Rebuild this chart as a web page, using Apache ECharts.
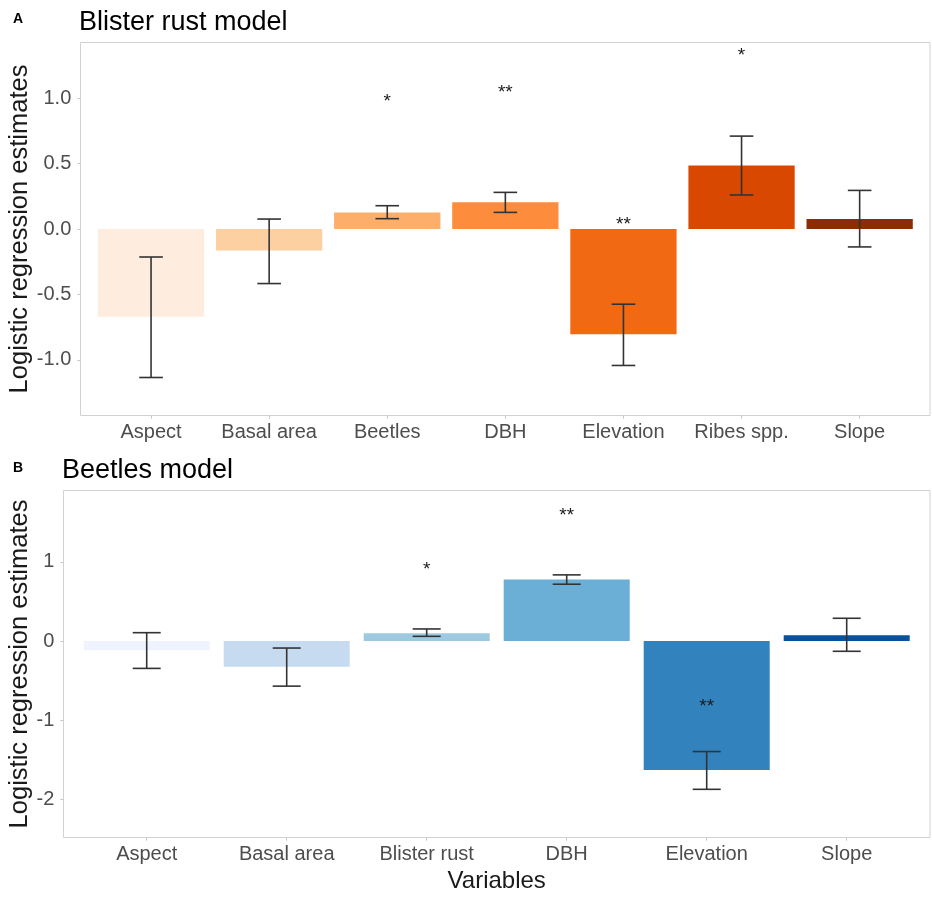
<!DOCTYPE html>
<html><head><meta charset="utf-8">
<script src="https://cdn.jsdelivr.net/npm/echarts@6/dist/echarts.min.js"></script>
<style>html,body{margin:0;padding:0;background:#fff}#c{width:932px;height:898px}</style>
</head><body><div id="c"></div>
<script>
// ---------- Panel A: Blister rust model ----------
const catsA = ['Aspect', 'Basal area', 'Beetles', 'DBH', 'Elevation', 'Ribes spp.', 'Slope'];
const estA  = [-0.67, -0.165, 0.127, 0.204, -0.804, 0.486, 0.076];
const lowA  = [-1.135, -0.417, 0.079, 0.127, -1.043, 0.26, -0.137];
const highA = [-0.214, 0.076, 0.178, 0.28, -0.575, 0.71, 0.295];
const sigA  = ['', '', '*', '**', '**', '*', ''];
const sigPosA = [null, null, 0.99, 1.06, 0.05, 1.34, null];
const colorsA = ['#feedde', '#fdd0a2', '#fdae6b', '#fd8d3c', '#f16913', '#d94801', '#8c2d04'];
const ticksA = [-1.0, -0.5, 0.0, 0.5, 1.0];

// ---------- Panel B: Beetles model ----------
const catsB = ['Aspect', 'Basal area', 'Blister rust', 'DBH', 'Elevation', 'Slope'];
const estB  = [-0.118, -0.325, 0.097, 0.776, -1.63, 0.072];
const lowB  = [-0.346, -0.57, 0.059, 0.717, -1.873, -0.13];
const highB = [0.105, -0.089, 0.152, 0.835, -1.396, 0.287];
const sigB  = ['', '', '*', '**', '**', ''];
const sigPosB = [null, null, 0.93, 1.61, -0.81, null];
const colorsB = ['#eff3ff', '#c6dbef', '#9ecae1', '#6baed6', '#3182bd', '#08519c'];
const ticksB = [-2, -1, 0, 1];

const FONT = "'Liberation Sans', Arial, Helvetica, sans-serif";
const chart = echarts.init(document.getElementById('c'), null, {renderer: 'canvas'});

function errRender(params, api) {
  const x = api.value(0);
  const pLo = api.coord([x, api.value(1)]);
  const pHi = api.coord([x, api.value(2)]);
  const hw = api.size([1, 0])[0] * 0.2 / 2;
  const st = {stroke: '#333333', lineWidth: 1.6};
  return {type: 'group', children: [
    {type: 'line', shape: {x1: pLo[0], y1: pLo[1], x2: pHi[0], y2: pHi[1]}, style: st},
    {type: 'line', shape: {x1: pLo[0] - hw, y1: pLo[1], x2: pLo[0] + hw, y2: pLo[1]}, style: st},
    {type: 'line', shape: {x1: pHi[0] - hw, y1: pHi[1], x2: pHi[0] + hw, y2: pHi[1]}, style: st}
  ]};
}
function sigRender(labels) {
  return function (params, api) {
    const i = api.value(0);
    const p = api.coord([i, api.value(1)]);
    return {type: 'text', x: p[0], y: p[1] + 2, style: {
      text: labels[i], fill: '#1a1a1a', font: '19px ' + FONT,
      align: 'center', verticalAlign: 'middle', textAlign: 'center', textVerticalAlign: 'middle'
    }};
  };
}
function sigData(pos) {
  const d = [];
  pos.forEach((v, i) => { if (v !== null) d.push([i, v]); });
  return d;
}

const tickStyle = {color: '#c8c8c8', width: 1};
const labelStyle = {color: '#4d4d4d', fontSize: 20, fontFamily: FONT};

const option = {
  animation: false,
  backgroundColor: '#ffffff',
  textStyle: {fontFamily: FONT},
  title: [
    {text: 'A', left: 13, top: 12, padding: 0, textStyle: {fontSize: 14, fontWeight: 'bold', color: '#000', fontFamily: FONT}},
    {text: 'Blister rust model', left: 79, top: 9, padding: 0, textStyle: {fontSize: 27, fontWeight: 'normal', color: '#000', fontFamily: FONT}},
    {text: 'B', left: 13, top: 461, padding: 0, textStyle: {fontSize: 14, fontWeight: 'bold', color: '#000', fontFamily: FONT}},
    {text: 'Beetles model', left: 62, top: 457, padding: 0, textStyle: {fontSize: 27, fontWeight: 'normal', color: '#000', fontFamily: FONT}}
  ],
  graphic: [
    {type: 'rect', z: -10, silent: true, shape: {x: 80.5, y: 42.5, width: 849.5, height: 373}, style: {fill: 'none', stroke: '#d2d2d2', lineWidth: 1}},
    {type: 'rect', z: -10, silent: true, shape: {x: 63.5, y: 490.5, width: 866.5, height: 347}, style: {fill: 'none', stroke: '#d2d2d2', lineWidth: 1}}
  ],
  grid: [
    {left: 92, right: 13.3, top: 42.3, bottom: 482.3, containLabel: false, outerBoundsMode: 'none'},
    {left: 76.7, right: 15.3, top: 490.3, bottom: 60.3, containLabel: false, outerBoundsMode: 'none'}
  ],
  xAxis: [
    {type: 'category', gridIndex: 0, data: catsA, position: 'bottom',
     axisLine: {show: false, onZero: false}, splitLine: {show: false},
     axisTick: {show: true, alignWithLabel: true, length: 3, lineStyle: tickStyle},
     axisLabel: Object.assign({margin: 7, interval: 0}, labelStyle)},
    {type: 'category', gridIndex: 1, data: catsB, position: 'bottom',
     axisLine: {show: false, onZero: false}, splitLine: {show: false},
     axisTick: {show: true, alignWithLabel: true, length: 3, lineStyle: tickStyle},
     axisLabel: Object.assign({margin: 7, interval: 0}, labelStyle),
     name: 'Variables', nameLocation: 'middle', nameGap: 32, nameMoveOverlap: false,
     nameTextStyle: {fontSize: 24, color: '#1a1a1a', fontFamily: FONT}}
  ],
  yAxis: [
    {type: 'value', gridIndex: 0, min: -1.427, max: 1.427, offset: 11.7,
     axisLine: {show: false}, splitLine: {show: false},
     axisTick: {show: true, length: 3, customValues: ticksA, lineStyle: tickStyle},
     axisLabel: Object.assign({margin: 9, customValues: ticksA, formatter: v => Number(v).toFixed(1)}, labelStyle),
     name: 'Logistic regression estimates', nameLocation: 'middle', nameGap: 47, nameMoveOverlap: false,
     nameTextStyle: {fontSize: 25.5, color: '#1a1a1a', fontFamily: FONT}},
    {type: 'value', gridIndex: 1, min: -2.484, max: 1.903, offset: 13.4,
     axisLine: {show: false}, splitLine: {show: false},
     axisTick: {show: true, length: 3, customValues: ticksB, lineStyle: tickStyle},
     axisLabel: Object.assign({margin: 9, customValues: ticksB, formatter: v => String(Math.round(v))}, labelStyle),
     name: 'Logistic regression estimates', nameLocation: 'middle', nameGap: 30, nameMoveOverlap: false,
     nameTextStyle: {fontSize: 25.5, color: '#1a1a1a', fontFamily: FONT}}
  ],
  series: [
    {type: 'bar', xAxisIndex: 0, yAxisIndex: 0, barWidth: '90%',
     data: estA.map((v, i) => ({value: v, itemStyle: {color: colorsA[i]}}))},
    {type: 'custom', xAxisIndex: 0, yAxisIndex: 0, renderItem: errRender, z: 5,
     encode: {x: 0, y: [1, 2]},
     data: catsA.map((c, i) => [i, lowA[i], highA[i]])},
    {type: 'custom', xAxisIndex: 0, yAxisIndex: 0, renderItem: sigRender(sigA), z: 6,
     encode: {x: 0, y: 1}, data: sigData(sigPosA)},
    {type: 'bar', xAxisIndex: 1, yAxisIndex: 1, barWidth: '90%',
     data: estB.map((v, i) => ({value: v, itemStyle: {color: colorsB[i]}}))},
    {type: 'custom', xAxisIndex: 1, yAxisIndex: 1, renderItem: errRender, z: 5,
     encode: {x: 0, y: [1, 2]},
     data: catsB.map((c, i) => [i, lowB[i], highB[i]])},
    {type: 'custom', xAxisIndex: 1, yAxisIndex: 1, renderItem: sigRender(sigB), z: 6,
     encode: {x: 0, y: 1}, data: sigData(sigPosB)}
  ]
};
chart.setOption(option);
</script>
</body></html>
